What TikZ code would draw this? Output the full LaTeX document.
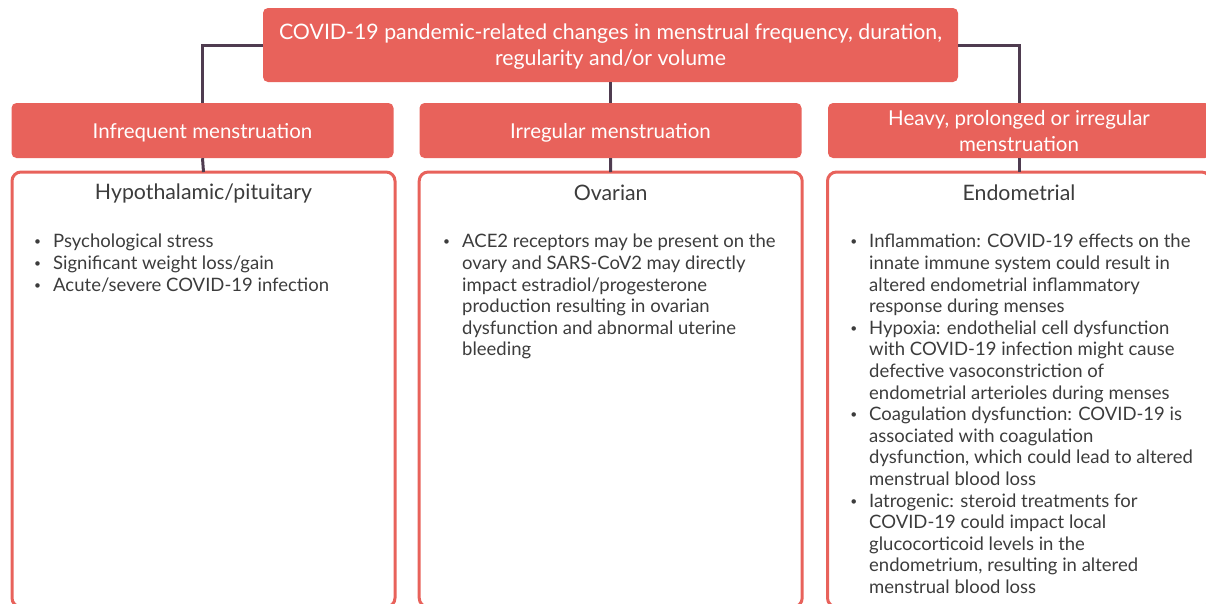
\documentclass[tikz,border=0pt]{standalone}
\usepackage{fontspec}
\setmainfont{Lato}
\usetikzlibrary{positioning}
\definecolor{boxred}{HTML}{E8625B}
\definecolor{linkplum}{HTML}{4F3C50}
\definecolor{txtgray}{HTML}{3C3C3C}
\newcommand{\bul}{\llap{\raisebox{2pt}{\fontsize{12}{12}\selectfont\textbullet}\hspace{12pt}}}

\begin{document}
\begin{tikzpicture}[x=1pt,y=-1pt,
  headbox/.style={fill=boxred, rounded corners=5pt, text=white, align=center, text depth=0pt,
    minimum width=382pt, minimum height=55pt, font=\fontsize{20.5}{26}\selectfont},
  listbox/.style={draw=boxred, line width=3pt, rounded corners=9pt, outer sep=0pt,
    minimum width=383pt, minimum height=435pt, anchor=north},
  link/.style={draw=linkplum, line width=3pt},
  boxtitle/.style={text=txtgray, font=\fontsize{21.3}{26}\selectfont},
  bullets/.style={text=txtgray, align=left, anchor=north west, inner sep=0pt,
    font=\fontsize{18.5}{21.6}\selectfont}]
\useasboundingbox (0,0) rectangle (1206,603);
\clip (0,0) rectangle (1206,603);

% top and headings
\node[headbox, minimum width=695pt, minimum height=74pt, font=\fontsize{21.3}{26}\selectfont]
  (covid) at (610.5,45) {COVID-19 pandemic-related changes in menstrual frequency, duration,\\regularity and/or volume};
\node[headbox] (infreq) at (202.5,130.5) {Infrequent menstruation};
\node[headbox] (irreg) at (610.5,130.5) {Irregular menstruation};
\node[headbox] (heavy) at (1019,130.5) {Heavy, prolonged or irregular\\menstruation};

% framed lists
\node[listbox] (hypo) at (203.5,172) {};
\node[listbox] (ovar) at (610.7,172) {};
\node[listbox] (endo) at (1019,172) {};

\draw[link] (covid.west) -| (infreq.north);
\draw[link] (covid.south) -- (irreg.north);
\draw[link] (covid.east) -| (heavy.north);
\foreach \h/\b in {infreq/hypo, irreg/ovar, heavy/endo}
  \draw[link] (\h.south) -- (\b.north);

\node[boxtitle] (hypot) at (203.5,193) {Hypothalamic/pituitary};
\node[boxtitle] (ovart) at (610.7,193) {Ovarian};
\node[boxtitle] (endot) at (1019,193) {Endometrial};

\node[bullets] (hypol) at (53,234) {\bul Psychological stress\\
  \bul Significant weight loss/gain\\
  \bul Acute/severe COVID-19 infection};
\node[bullets] (ovarl) at (462,234) {\bul ACE2 receptors may be present on the\\
  ovary and SARS-CoV2 may directly\\
  impact estradiol/progesterone\\
  production resulting in ovarian\\
  dysfunction and abnormal uterine\\
  bleeding};
\node[bullets] (endol) at (869,234) {\bul Inflammation: COVID-19 effects on the\\
  innate immune system could result in\\
  altered endometrial inflammatory\\
  response during menses\\
  \bul Hypoxia: endothelial cell dysfunction\\
  with COVID-19 infection might cause\\
  defective vasoconstriction of\\
  endometrial arterioles during menses\\
  \bul Coagulation dysfunction: COVID-19 is\\
  associated with coagulation\\
  dysfunction, which could lead to altered\\
  menstrual blood loss\\
  \bul Iatrogenic: steroid treatments for\\
  COVID-19 could impact local\\
  glucocorticoid levels in the\\
  endometrium, resulting in altered\\
  menstrual blood loss};
\end{tikzpicture}
\end{document}
